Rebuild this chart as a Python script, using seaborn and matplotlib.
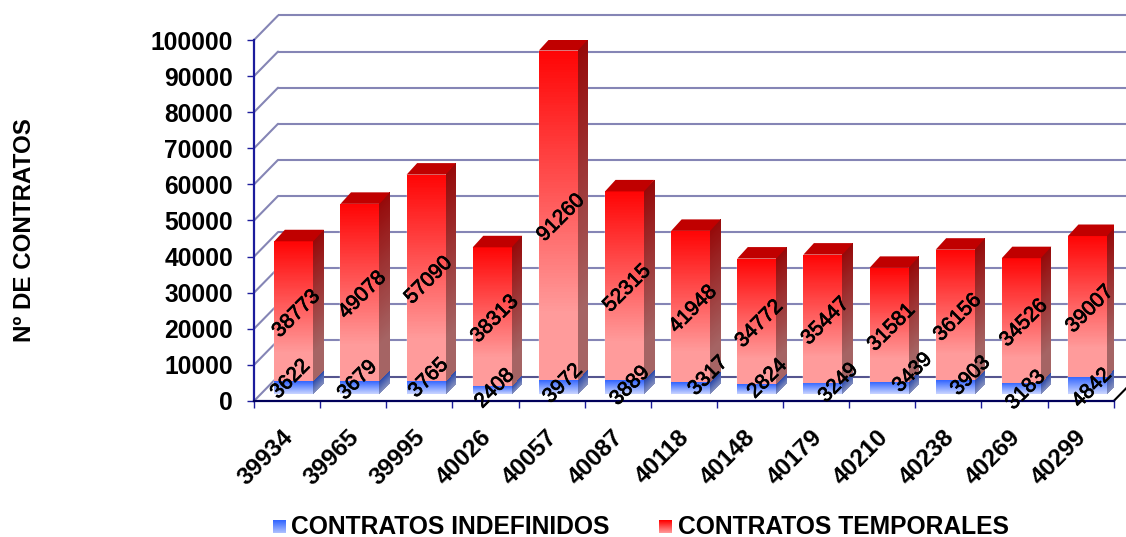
import numpy as np
import pandas as pd
import matplotlib
matplotlib.use("Agg")
import matplotlib.pyplot as plt
import matplotlib.patheffects as pe
from matplotlib.patches import Polygon
from matplotlib.transforms import ScaledTranslation
import seaborn as sns

months = ["39934", "39965", "39995", "40026", "40057", "40087", "40118",
          "40148", "40179", "40210", "40238", "40269", "40299"]
indefinidos = [3622, 3679, 3765, 2408, 3972, 3889, 3317, 2824, 3249, 3439, 3903, 3183, 4842]
temporales = [38773, 49078, 57090, 38313, 91260, 52315, 41948, 34772, 35447, 31581, 36156, 34526, 39007]
y_ticks = list(range(0, 100001, 10000))
series_names = ["CONTRATOS INDEFINIDOS", "CONTRATOS TEMPORALES"]

# hand-placed data labels of the lower series: pixel nudges from the segment centre
nudge_x = [-6, -5, 0, 0, 2, 3, 15, 8, 13, 21, 13, 2, 2]
nudge_y = [11, 10, 12, 4, 6, 4, 15, 13, 8, 18, 14, 1, 0]

W, H, DPI = 1126, 537, 100
L, R, T, B = 254.0, 1113.7, 40.0, 401.0

sns.set_theme(style="white")
plt.rcParams["font.family"] = ["Liberation Sans", "DejaVu Sans"]
plt.rcParams["font.weight"] = "bold"

fig = plt.figure(figsize=(W / DPI, H / DPI), dpi=DPI, facecolor="white")
ax = fig.add_axes([L / W, 1 - B / H, (R - L) / W, (B - T) / H])
ax.patch.set_alpha(0)

px_x = (R - L) / len(months)
px_y = (B - T) / 100000.0
bar_w = 39.0 / px_x
WALL_X, WALL_Y = 24.0 / px_x, 24.5 / px_y
DEPTH_X, DEPTH_Y = 10.5 / px_x, 11.5 / px_y

totals = [a + b for a, b in zip(indefinidos, temporales)]
df = pd.DataFrame({"pos": np.arange(len(months)), "ind": indefinidos, "tem": temporales, "tot": totals})

sns.barplot(data=df, x="pos", y="tot", color="#ff4040", width=bar_w, ax=ax,
            saturation=1, zorder=2, native_scale=True)
sns.barplot(data=df, x="pos", y="ind", color="#3366ff", width=bar_w, ax=ax,
            saturation=1, zorder=2.1, native_scale=True)

bar_shift = ScaledTranslation(6.8 / DPI, 6.7 / DPI, fig.dpi_scale_trans)
tr = ax.transData + bar_shift
for p in ax.patches:
    p.set_transform(tr)


def ramp(top, bottom, n=120, hold=0.0):
    top, bottom = np.array(top, float) / 255, np.array(bottom, float) / 255
    t = np.clip((np.linspace(0, 1, n) - hold) / (1 - hold), 0, 1)[:, None]
    return (bottom * (1 - t) + top * t)[:, None, :]  # rows run upward


def face(x0, x1, y0, y1, top, bottom, skew=0.0, z=3, hold=0.0):
    n = 120
    ys = np.linspace(y0, y1, n + 1)
    X = np.column_stack([np.full(n + 1, x0), np.full(n + 1, x1)])
    Y = np.column_stack([ys, ys + skew])
    ax.pcolormesh(X, Y, ramp(top, bottom, n, hold), transform=tr, zorder=z,
                  antialiased=False, edgecolors="none")


def value_label(i, y, value, dx=0, dy=0):
    txt = ax.annotate(str(value), xy=(i, y), xycoords=tr, xytext=(dx + 2.5, dy - 2.5),
                      textcoords="offset pixels", rotation=45, ha="center", va="center",
                      rotation_mode="anchor", fontsize=15, fontweight="normal", color="black",
                      zorder=6, annotation_clip=False)
    txt.set_path_effects([pe.withStroke(linewidth=0.55, foreground="black")])


for i in range(len(months)):
    x0, x1 = i - bar_w / 2, i + bar_w / 2
    b, t = indefinidos[i], totals[i]
    face(x0, x1, 0, b, (51, 102, 255), (205, 215, 255))
    face(x0, x1, b, t, (255, 5, 5), (255, 155, 155), hold=0.2)
    face(x1, x1 + DEPTH_X, 0, b, (45, 75, 170), (135, 145, 190), skew=DEPTH_Y)
    face(x1, x1 + DEPTH_X, b, t, (150, 10, 10), (165, 100, 100), skew=DEPTH_Y, hold=0.2)
    ax.add_patch(Polygon([(x0, t), (x1, t), (x1 + DEPTH_X, t + DEPTH_Y),
                          (x0 + DEPTH_X, t + DEPTH_Y)], closed=True,
                         facecolor="#c00000", edgecolor="none", transform=tr, zorder=3))
    value_label(i, b / 2, indefinidos[i], nudge_x[i], nudge_y[i])
    value_label(i, b + temporales[i] / 2, temporales[i])

# back wall and side wall
GRID = "#8585b5"
x_left = -0.5
x_right = len(months) - 0.5
for v in y_ticks:
    c = "#55558f" if v == 0 else GRID
    ax.plot([x_left + WALL_X, x_right + WALL_X], [v + WALL_Y] * 2, color=c, lw=1.5,
            clip_on=False, zorder=1, solid_capstyle="butt")
    ax.plot([x_left, x_left + WALL_X], [v, v + WALL_Y], color=GRID, lw=1.5,
            clip_on=False, zorder=1)
ax.plot([x_right, x_right + WALL_X], [0, WALL_Y], color="black", lw=1.5, clip_on=False, zorder=1)

ax.set_xlim(x_left, x_right)
ax.set_ylim(0, 100000)
ax.set_xlabel("")

sns.despine(ax=ax, top=True, right=True)
ax.spines["left"].set_color("#1c1c9c")
ax.spines["left"].set_linewidth(1.6)
ax.spines["bottom"].set_color("#00005a")
ax.spines["bottom"].set_linewidth(1.6)

ax.set_yticks(y_ticks)
ax.set_yticklabels([str(v) for v in y_ticks])
ax.tick_params(axis="y", which="major", left=True, length=5.2, width=1.0, color="#1c1c9c",
               labelsize=17.7, labelcolor="black", pad=10)

ax.set_xticks(np.arange(len(months) + 1) - 0.5)
ax.set_xticklabels([])
ax.set_xticks(np.arange(len(months)), minor=True)
ax.set_xticklabels(months, minor=True, rotation=45, ha="right", va="top",
                   rotation_mode="anchor", fontsize=17.5, color="black")
ax.tick_params(axis="x", which="major", bottom=True, length=5.2, width=1.0, color="#1c1c9c")
ax.tick_params(axis="x", which="minor", bottom=False, length=0, pad=17.5)
label_shift = ScaledTranslation(-6 / DPI, 0, fig.dpi_scale_trans)
for lab in ax.get_xticklabels(minor=True):
    lab.set_transform(lab.get_transform() + label_shift)

ax.set_ylabel("Nº DE CONTRATOS", fontsize=17.4, fontweight="bold", color="black")
ax.yaxis.set_label_coords((36 - L) / (R - L), (B - 230) / (B - T))

# legend
key_top = ((51, 102, 255), (255, 0, 0))
key_bot = ((170, 190, 255), (255, 150, 150))
key_x = (273, 659)
txt_x = (291, 678)
for name, top, bot, kx, tx in zip(series_names, key_top, key_bot, key_x, txt_x):
    g = np.array(top)[None, :] * np.linspace(1, 0, 13)[:, None] + \
        np.array(bot)[None, :] * np.linspace(0, 1, 13)[:, None]
    key = np.repeat((g / 255)[:, None, :], 13, axis=1)
    fig.figimage(key, xo=kx, yo=H - 533, origin="upper", resize=False, zorder=2)
    fig.text(tx / W, 1 - 527 / H, name, fontsize=17.7, fontweight="bold", color="black",
             ha="left", va="center")

fig.savefig("out.png", dpi=DPI, facecolor="white")
